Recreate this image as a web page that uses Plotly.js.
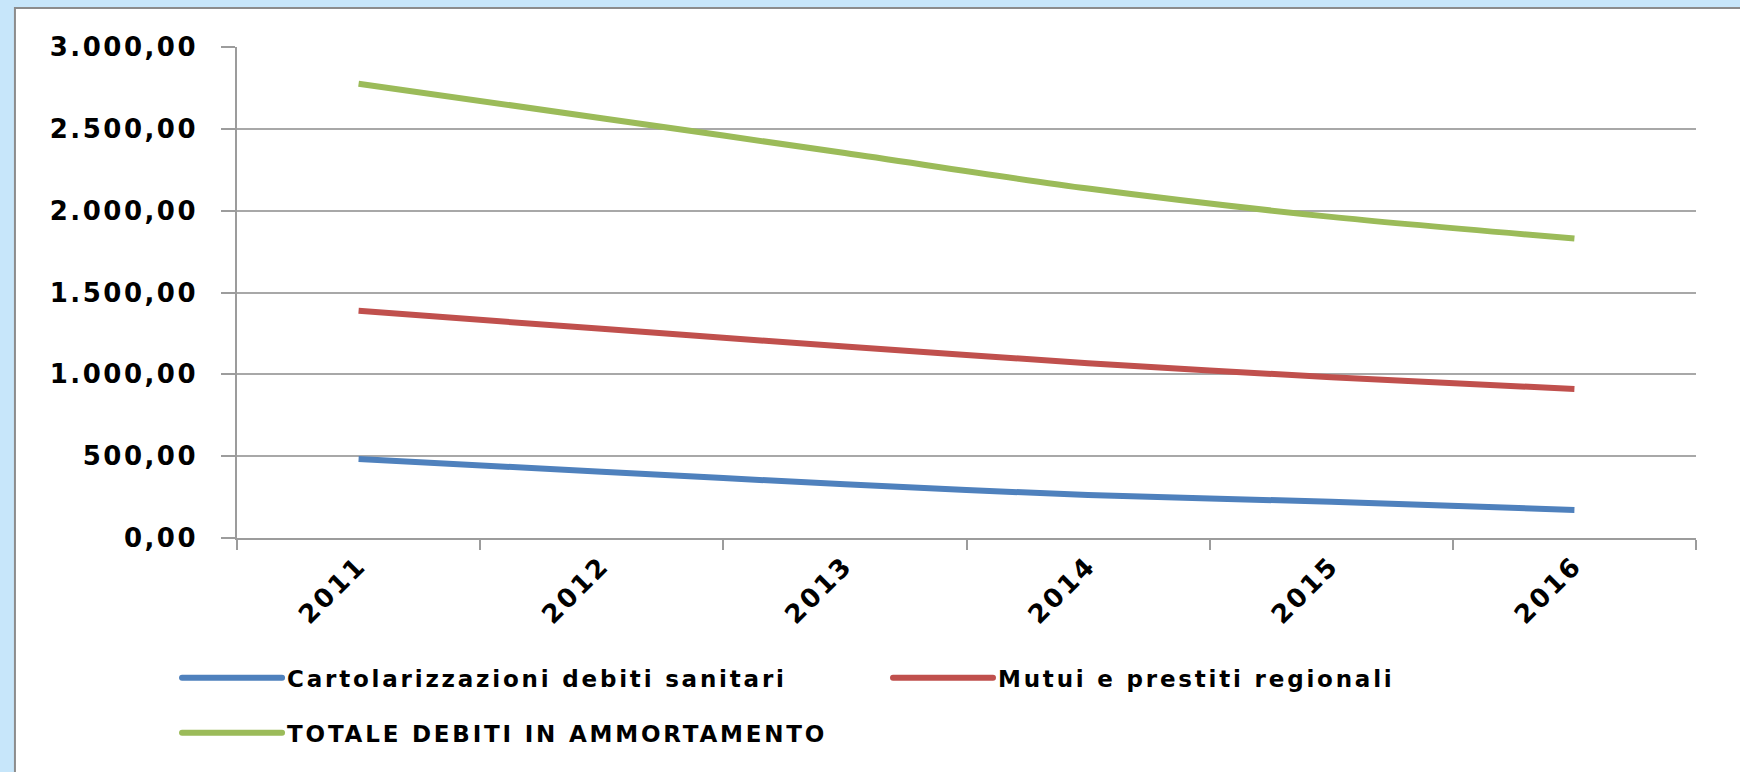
<!DOCTYPE html>
<html>
<head>
<meta charset="utf-8">
<script src="https://cdn.plot.ly/plotly-3.0.1.min.js"></script>
<style>
html, body { margin: 0; padding: 0; background: #C7E6FA; }
#chart { width: 1740px; height: 772px; }
svg text { letter-spacing: 2.8px; }
.ytick text, .xtick text { letter-spacing: 2.5px; }
</style>
</head>
<body>
<div id="chart"></div>
<script>
// Categories (x axis)
const years = ['2011', '2012', '2013', '2014', '2015', '2016'];

// Series values
const cartolarizzazioni = [482, 405, 328, 262, 222, 171];
const mutui = [1388, 1278, 1170, 1068, 982, 910];
const totale = [2776, 2565, 2352, 2135, 1962, 1830];

// Series names
const names = [
  'Cartolarizzazioni debiti sanitari',
  'Mutui e prestiti regionali',
  'TOTALE DEBITI IN AMMORTAMENTO'
];
const colors = ['#4F81BD', '#C0504D', '#9BBB59'];

function boldFont(size) {
  return { family: 'DejaVu Sans', size: size, color: '#000000', weight: 700 };
}

function lineTrace(y, i, legendId) {
  return {
    x: years, y: y, name: names[i], type: 'scatter', mode: 'lines',
    line: { color: colors[i], width: 6, shape: 'spline', smoothing: 0.8 },
    legend: legendId, hoverinfo: 'x+y+name'
  };
}

const data = [
  lineTrace(cartolarizzazioni, 0, 'legend'),
  lineTrace(mutui, 1, 'legend2'),
  lineTrace(totale, 2, 'legend3')
];

function makeLegend(x, y) {
  return {
    orientation: 'v', xanchor: 'left', yanchor: 'middle', x: x, y: y,
    bgcolor: 'rgba(0,0,0,0)', borderwidth: 0, itemwidth: 100,
    font: boldFont(23), itemclick: false, itemdoubleclick: false
  };
}

const axisGrey = '#9C9C9C';

const layout = {
  width: 1740, height: 772,
  font: boldFont(23),
  paper_bgcolor: '#C7E6FA',
  plot_bgcolor: '#FFFFFF',
  margin: { l: 237, r: 44, t: 47, b: 234, autoexpand: false },
  separators: ',.',
  showlegend: true,
  xaxis: {
    type: 'category', range: [-0.5, 5.5], tickson: 'boundaries',
    ticks: 'outside', ticklen: 10, tickwidth: 1.5, tickcolor: axisGrey,
    showline: true, linecolor: axisGrey, linewidth: 1.5,
    showgrid: false, zeroline: false, tickangle: -45,
    tickfont: boldFont(26), fixedrange: true
  },
  yaxis: {
    range: [0, 3000], tick0: 0, dtick: 500, tickformat: ',.2f',
    ticks: 'outside', ticklen: 14, tickwidth: 1.5, tickcolor: axisGrey,
    showline: true, linecolor: axisGrey, linewidth: 1.5,
    showgrid: true, gridcolor: '#A8A8A8', gridwidth: 1.5, zeroline: false,
    tickfont: boldFont(26), ticklabelstandoff: 18, fixedrange: true
  },
  legend: makeLegend(-0.0411, -0.2845),
  legend2: makeLegend(0.4462, -0.2845),
  legend3: makeLegend(-0.0411, -0.3965),
  shapes: [{
    type: 'rect', xref: 'paper', yref: 'paper',
    x0: -0.1522, x1: 1.06, y0: -0.56, y1: 1.0794,
    fillcolor: '#FFFFFF', line: { color: '#8C8C8C', width: 2 }, layer: 'below'
  }]
};

Plotly.newPlot('chart', data, layout, { displayModeBar: false }).then(function (gd) {
  // lengthen the legend line samples to match the reference
  gd.querySelectorAll('.infolayer path.js-line').forEach(function (p) {
    p.setAttribute('d', 'M5,0h100');
    p.style.strokeLinecap = 'round';
  });
});
</script>
</body>
</html>
